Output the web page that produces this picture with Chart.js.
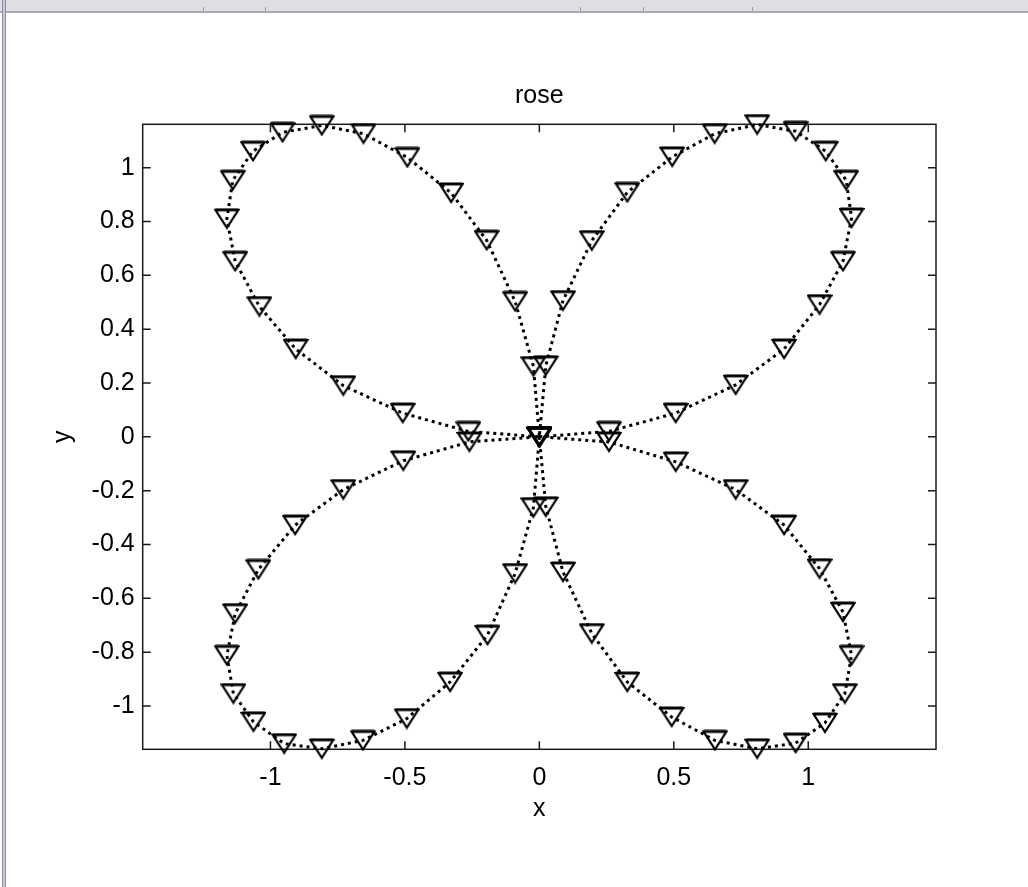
<!DOCTYPE html>
<html>
<head>
<meta charset="utf-8">
<title>rose</title>
<script src="https://cdn.jsdelivr.net/npm/chart.js@4/dist/chart.umd.min.js"></script>
<style>
	html, body { margin: 0; padding: 0; background: #fff; overflow: hidden; }
	#wrap { position: relative; width: 1028px; height: 887px; }
	#wrap canvas { position: absolute; left: 0; top: 0; }
	.menubar { position: absolute; left: 0; top: 0; width: 1028px; height: 11px; background: #dfdfe4; border-bottom: 2px solid #a9a9b3; }
	.menubar i { position: absolute; bottom: 0; width: 1px; height: 4px; background: #9a9aa4; }
	.edge { position: absolute; left: 2px; top: 0; width: 2px; height: 887px; background: #c9c9d6; border-left: 1px solid #8d8da3; border-right: 1px solid #8d8da3; }
</style>
</head>
<body>
<div id="wrap">
	<canvas id="rose" width="1028" height="887"></canvas>
	<div class="menubar">
		<i style="left:203px"></i><i style="left:265px"></i><i style="left:580px"></i><i style="left:643px"></i><i style="left:752px"></i>
	</div>
	<div class="edge"></div>
</div>
<script>
// Rose petals, each one traced from the origin out and back again
const neX = [0, 0.259, 0.507, 0.730, 0.910, 1.042, 1.129, 1.161, 1.141, 1.065, 0.953, 0.810, 0.652, 0.494, 0.327, 0.195, 0.088, 0.024];
const neY = [0, 0.020, 0.088, 0.193, 0.326, 0.491, 0.652, 0.813, 0.953, 1.061, 1.135, 1.160, 1.126, 1.040, 0.908, 0.729, 0.506, 0.264];

const nwX = [0, -0.264, -0.508, -0.729, -0.906, -1.041, -1.131, -1.162, -1.140, -1.065, -0.955, -0.809, -0.654, -0.491, -0.328, -0.196, -0.090, -0.022];
const nwY = [0, 0.020, 0.088, 0.190, 0.326, 0.484, 0.652, 0.810, 0.953, 1.061, 1.131, 1.157, 1.126, 1.038, 0.906, 0.730, 0.503, 0.261];

const swX = [0, -0.260, -0.506, -0.729, -0.908, -1.045, -1.131, -1.162, -1.138, -1.063, -0.949, -0.809, -0.656, -0.493, -0.332, -0.193, -0.090, -0.022];
const swY = [0, -0.019, -0.089, -0.196, -0.328, -0.493, -0.657, -0.812, -0.954, -1.059, -1.140, -1.159, -1.128, -1.047, -0.911, -0.737, -0.508, -0.263];

const seX = [0, 0.259, 0.507, 0.730, 0.910, 1.042, 1.129, 1.161, 1.136, 1.062, 0.953, 0.810, 0.653, 0.492, 0.327, 0.195, 0.088, 0.024];
const seY = [0, -0.019, -0.093, -0.196, -0.328, -0.490, -0.651, -0.812, -0.954, -1.063, -1.138, -1.159, -1.128, -1.041, -0.911, -0.731, -0.502, -0.260];

const xTicks = [-1, -0.5, 0, 0.5, 1];
const yTicks = [-1, -0.8, -0.6, -0.4, -0.2, 0, 0.2, 0.4, 0.6, 0.8, 1];

// join the petals into one path, ending back at the origin
const points = [];
[[neX, neY], [nwX, nwY], [swX, swY], [seX, seY]].forEach(function (petal) {
	petal[0].forEach(function (x, i) {
		points.push({ x: x, y: petal[1][i] });
	});
});
points.push({ x: 0, y: 0 });

const font = { family: '"Liberation Sans", Arial, sans-serif', size: 25, weight: 'normal' };

// downward triangle marker, open face
function makeMarker() {
	const c = document.createElement('canvas');
	c.width = 26;
	c.height = 22;
	const g = c.getContext('2d');
	g.strokeStyle = '#000';
	g.lineWidth = 2.2;
	g.beginPath();
	g.moveTo(1.5, 2);
	g.lineTo(24.5, 2);
	g.lineTo(13, 20);
	g.closePath();
	g.stroke();
	g.lineWidth = 3;
	g.beginPath();
	g.moveTo(1.5, 2);
	g.lineTo(24.5, 2);
	g.stroke();
	return c;
}

// box around the axes with ticks pointing inward on every side
const frame = {
	id: 'frame',
	beforeDatasetsDraw: function (chart) {
		const ctx = chart.ctx;
		const a = chart.chartArea;
		const x = chart.scales.x;
		const y = chart.scales.y;
		const len = 8;
		ctx.save();
		ctx.strokeStyle = '#1a1a1a';
		ctx.lineWidth = 1.5;
		ctx.strokeRect(a.left, a.top, a.right - a.left, a.bottom - a.top);
		ctx.beginPath();
		x.ticks.forEach(function (t) {
			const px = x.getPixelForValue(t.value);
			ctx.moveTo(px, a.bottom);
			ctx.lineTo(px, a.bottom - len);
			ctx.moveTo(px, a.top);
			ctx.lineTo(px, a.top + len);
		});
		y.ticks.forEach(function (t) {
			const py = y.getPixelForValue(t.value);
			ctx.moveTo(a.left, py);
			ctx.lineTo(a.left + len, py);
			ctx.moveTo(a.right, py);
			ctx.lineTo(a.right - len, py);
		});
		ctx.stroke();
		ctx.restore();
	},
};

new Chart(document.getElementById('rose'), {
	type: 'scatter',
	data: {
		datasets: [
			{
				label: 'rose',
				data: points,
				showLine: true,
				tension: 0,
				borderColor: '#000',
				borderWidth: 3,
				borderDash: [3, 4],
				pointStyle: makeMarker(),
				pointRadius: 12,
				pointHoverRadius: 12,
				clip: false,
			},
		],
	},
	options: {
		responsive: false,
		animation: false,
		events: [],
		layout: {
			padding: { left: 0, right: 92, top: 0, bottom: 0 },
		},
		plugins: {
			legend: { display: false },
			tooltip: { enabled: false },
			title: {
				display: true,
				fullSize: false,
				text: 'rose',
				color: '#000',
				font: font,
				padding: { top: 81.5, bottom: 12.8 },
			},
		},
		scales: {
			x: {
				type: 'linear',
				position: 'bottom',
				bounds: 'data',
				min: -1.475,
				max: 1.475,
				afterBuildTicks: function (s) {
					s.ticks = xTicks.map(function (v) { return { value: v }; });
				},
				afterFit: function (s) {
					s.height = 137.7;
				},
				grid: { display: false, drawTicks: false },
				border: { display: false },
				ticks: {
					color: '#000',
					font: font,
					padding: 13.5,
					maxRotation: 0,
					autoSkip: false,
					callback: function (v) { return String(v); },
				},
				title: {
					display: true,
					text: 'x',
					color: '#000',
					font: font,
					padding: { top: 0, bottom: 63.3 },
				},
			},
			y: {
				type: 'linear',
				position: 'left',
				bounds: 'data',
				min: -1.161,
				max: 1.161,
				afterBuildTicks: function (s) {
					s.ticks = yTicks.map(function (v) { return { value: v }; });
				},
				afterFit: function (s) {
					s.width = 142.7;
				},
				grid: { display: false, drawTicks: false },
				border: { display: false },
				ticks: {
					color: '#000',
					font: font,
					padding: 8,
					autoSkip: false,
					callback: function (v) { return String(v); },
				},
				title: {
					display: true,
					text: 'y',
					color: '#000',
					font: font,
					padding: { top: 48, bottom: 0 },
				},
			},
		},
	},
	plugins: [frame],
});
</script>
</body>
</html>
